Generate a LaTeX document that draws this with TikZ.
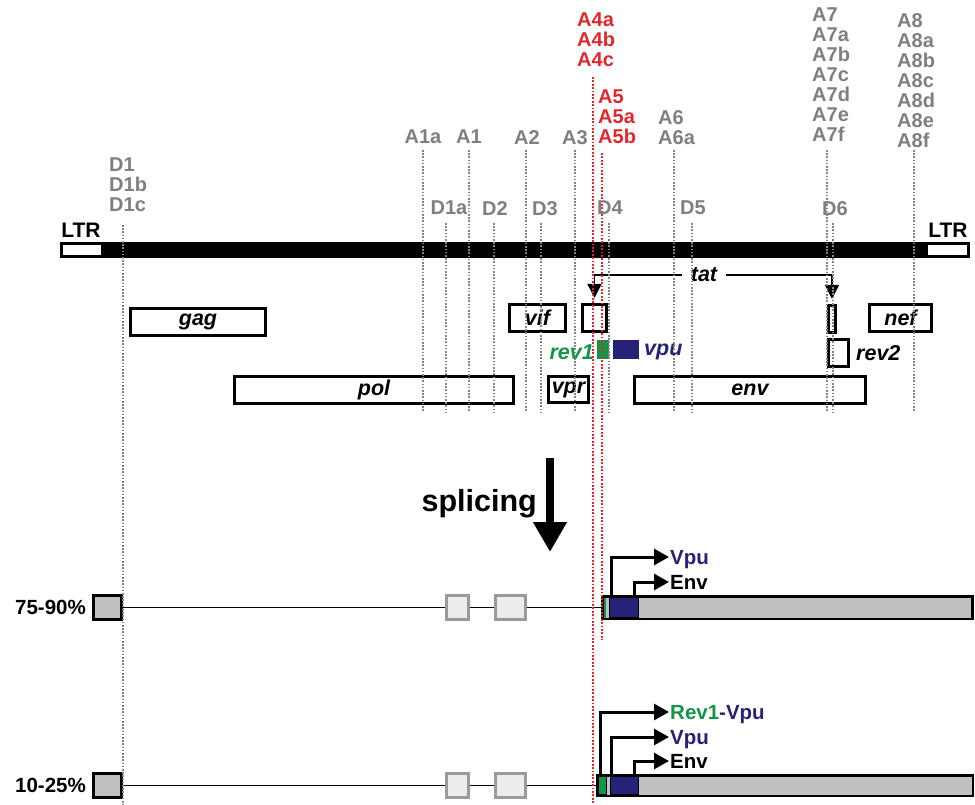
\documentclass[tikz,border=0pt]{standalone}
\usepackage{fontspec}
\setmainfont{Liberation Sans}
\usetikzlibrary{arrows.meta, positioning}
\definecolor{siteGray}{HTML}{858585}
\definecolor{labGray}{HTML}{7F7F7F}
\definecolor{siteRed}{HTML}{E3262B}
\definecolor{vpuBlue}{HTML}{262278}
\definecolor{revGreen}{HTML}{139548}
\definecolor{exonGray}{HTML}{C0C0C0}
\definecolor{exonLight}{HTML}{ECECEC}
\definecolor{exonEdge}{HTML}{9A9A9A}

\begin{document}
\begin{tikzpicture}[x=1pt, y=-1pt,
      gbox/.style={draw, line width=3pt, fill=white, inner sep=0pt, minimum height=27pt,
        font=\fontsize{21.5}{24}\selectfont\bfseries\itshape},
      glbl/.style={inner sep=0pt, font=\fontsize{21.5}{24}\selectfont\bfseries\itshape},
      site/.style={siteGray, line width=1.8pt, dash pattern=on 1.6pt off 1.6pt},
      redsite/.style={siteRed, line width=2pt, dash pattern=on 1.8pt off 1.6pt},
      slbl/.style={text=labGray, inner sep=0pt, align=left, font=\fontsize{20}{20}\selectfont\bfseries},
      ltrlbl/.style={inner sep=0pt, font=\fontsize{21}{24}\selectfont\bfseries},
      tatline/.style={line width=1.4pt, -{Triangle[width=14pt,length=14pt]}, shorten >=5pt},
      lbox/.style={draw, line width=3pt, fill=exonGray, inner sep=0pt, minimum width=28pt, minimum height=24pt},
      ebox/.style={draw=exonEdge, line width=2.5pt, fill=exonLight, inner sep=0pt, minimum height=24pt},
      txbox/.style={draw, line width=2.5pt, fill=exonGray, inner sep=0pt},
      gstrip/.style={fill=revGreen, inner sep=0pt},
      bstrip/.style={draw, line width=1pt, fill=vpuBlue, inner sep=0pt},
      intron/.style={line width=1.2pt},
      txarrow/.style={line width=3pt, -{Triangle[width=16pt,length=15pt]}},
      txlbl/.style={anchor=west, inner sep=1pt, text height=14.5pt, text depth=0pt,
        font=\fontsize{20.5}{22}\selectfont\bfseries},
      rlbl/.style={anchor=east, inner sep=0pt, font=\fontsize{20.5}{22}\selectfont\bfseries},
      bigarrow/.style={line width=8pt, -{Triangle[width=32pt,length=30pt]}}]
    \useasboundingbox (0,0) rectangle (975,805);
    % genome with both LTRs
    \node[fill=black, inner sep=0pt, minimum width=910pt, minimum height=16pt] (genome) at (515,250) {};
    \node[fill=white, inner sep=0pt, minimum width=38pt, minimum height=10pt] (ltrL) at (82,250) {};
    \node[fill=white, inner sep=0pt, minimum width=39pt, minimum height=10pt] (ltrR) at (947.5,250) {};
    \node[ltrlbl, anchor=base] (ltrLlbl) at (81,237.5) {LTR};
    \node[ltrlbl, anchor=base] (ltrRlbl) at (948,237.5) {LTR};
    % reading frames
    \node[gbox, minimum width=135pt] (gag) at (198,322) {gag};
    \node[gbox, minimum width=279pt] (pol) at (374,390) {pol};
    \node[gbox, minimum width=56pt]  (vif) at (537.5,318) {vif};
    \node[gbox, minimum width=24pt]  (tat1) at (594.5,318) {};
    \node[gbox, minimum width=40pt, minimum height=26pt] (vpr) at (568.5,389.5) {vpr};
    \node[gbox, minimum width=231pt] (env) at (750,390) {env};
    \node[gbox, minimum width=7pt]   (tat2) at (832,319) {};
    \node[gbox, minimum width=20pt]  (rev2) at (838.5,353) {};
    \node[gbox, minimum width=62pt]  (nef) at (900.5,318) {nef};
    \node[gstrip, minimum width=12pt, minimum height=19pt] (rev1) at (603,349.5) {};
    \node[fill=vpuBlue, inner sep=0pt, minimum width=26pt, minimum height=19pt] (vpu) at (626,349.5) {};
    \node[glbl, text=revGreen, anchor=east] (rev1lbl) at (594,352) {rev1};
    \node[glbl, text=vpuBlue, anchor=west] (vpulbl) at (644,352) {vpu};
    \node[glbl, anchor=west] (rev2lbl) at (856,353) {rev2};
    % tat exons
    \node[glbl, inner xsep=9pt] (tat) at (704,275) {tat};
    \draw[tatline] (tat.west) -| (tat1);
    \draw[tatline] (tat.east) -| (tat2);
    % splicing
    \coordinate (sp0) at (550,458);
    \coordinate (sp1) at (550,552);
    \node[anchor=base east, inner sep=0pt, font=\fontsize{30.5}{36}\selectfont\bfseries] (splice) at (537,511) {splicing};
    \draw[bigarrow] (sp0) -- (sp1);
    % 75-90%
    \node[rlbl] (pct1) at (86,607.5) {75-90\%};
    \node[lbox] (L1) at (107.5,607.5) {};
    \node[ebox, minimum width=22pt] (e1a) at (457.5,607.5) {};
    \node[ebox, minimum width=30pt] (e1b) at (510.5,607.5) {};
    \node[txbox, minimum width=370pt, minimum height=22.5pt] (tx1) at (787.5,607.5) {};
    \node[gstrip, minimum width=2.5pt, minimum height=20pt] (g1) at (605,607.5) {};
    \node[bstrip, minimum width=28.5pt, minimum height=20pt] (b1) at (623.75,607.5) {};
    \draw[intron] (L1) -- (e1a);
    \draw[intron] (e1a) -- (e1b);
    \draw[intron] (e1b) -- (tx1);
    \coordinate (f1v) at (611,597);
    \coordinate (f1e) at (634,597);
    \node[txlbl, text=vpuBlue] (vpu1) at (669,557) {Vpu};
    \node[txlbl] (env1) at (669,582) {Env};
    \draw[txarrow] (f1v) |- (vpu1);
    \draw[txarrow] (f1e) |- (env1);
    % 10-25%
    \node[rlbl] (pct2) at (86,785.5) {10-25\%};
    \node[lbox] (L2) at (107.5,785.5) {};
    \node[ebox, minimum width=22pt] (e2a) at (457.5,785.5) {};
    \node[ebox, minimum width=30pt] (e2b) at (510.5,785.5) {};
    \node[txbox, minimum width=375.5pt, minimum height=20.5pt] (tx2) at (785.25,785.5) {};
    \node[bstrip, draw, fill=revGreen, minimum width=8pt, minimum height=18pt] (g2) at (602.5,785.5) {};
    \node[bstrip, minimum width=28pt, minimum height=18pt] (b2) at (624,785.5) {};
    \draw[intron] (L2) -- (e2a);
    \draw[intron] (e2a) -- (e2b);
    \draw[intron] (e2b) -- (tx2);
    \coordinate (f2r) at (600,776);
    \coordinate (f2v) at (611,776);
    \coordinate (f2e) at (634,776);
    \node[txlbl] (rv2) at (669,712) {\textcolor{revGreen}{Rev1}\textcolor{vpuBlue}{-Vpu}};
    \node[txlbl, text=vpuBlue] (vpu2) at (669,737) {Vpu};
    \node[txlbl] (env2) at (669,761) {Env};
    \draw[txarrow] (f2r) |- (rv2);
    \draw[txarrow] (f2v) |- (vpu2);
    \draw[txarrow] (f2e) |- (env2);
    % splice sites
    \foreach \x in {423,469,526,575,674,827,914}
      \draw[site] (\x,150) -- (\x,412);
    \foreach \x in {446,494,541,609,692,833}
      \draw[site] (\x,223) -- (\x,412);
    \draw[site] (123,225) -- (123,805);
    \draw[redsite] (593,77) -- (593,805);
    \draw[redsite] (602,153) -- (602,640);
    % site labels
    \node[slbl, anchor=north west] (d1) at (109,158) {D1\\D1b\\D1c};
    \node[slbl, anchor=north] (a1a) at (423,130) {A1a};
    \node[slbl, anchor=north] (a1) at (469,130) {A1};
    \node[slbl, anchor=north] (a2) at (527,130) {A2};
    \node[slbl, anchor=north] (a3) at (575,130) {A3};
    \node[slbl, text=siteRed, anchor=north west] (a4) at (577,13) {A4a\\A4b\\A4c};
    \node[slbl, text=siteRed, anchor=north west] (a5) at (598,90) {A5\\A5a\\A5b};
    \node[slbl, anchor=north west] (a6) at (658,110) {A6\\A6a};
    \node[slbl, anchor=north west] (a7) at (812,8) {A7\\A7a\\A7b\\A7c\\A7d\\A7e\\A7f};
    \node[slbl, anchor=north west] (a8) at (897,13) {A8\\A8a\\A8b\\A8c\\A8d\\A8e\\A8f};
    \node[slbl, anchor=north] (d1a) at (449,201) {D1a};
    \node[slbl, anchor=north] (d2) at (495,201) {D2};
    \node[slbl, anchor=north] (d3) at (545,201) {D3};
    \node[slbl, anchor=north] (d4) at (610,201) {D4};
    \node[slbl, anchor=north] (d5) at (693,201) {D5};
    \node[slbl, anchor=north] (d6) at (835,201) {D6};
  \end{tikzpicture}
\end{document}
